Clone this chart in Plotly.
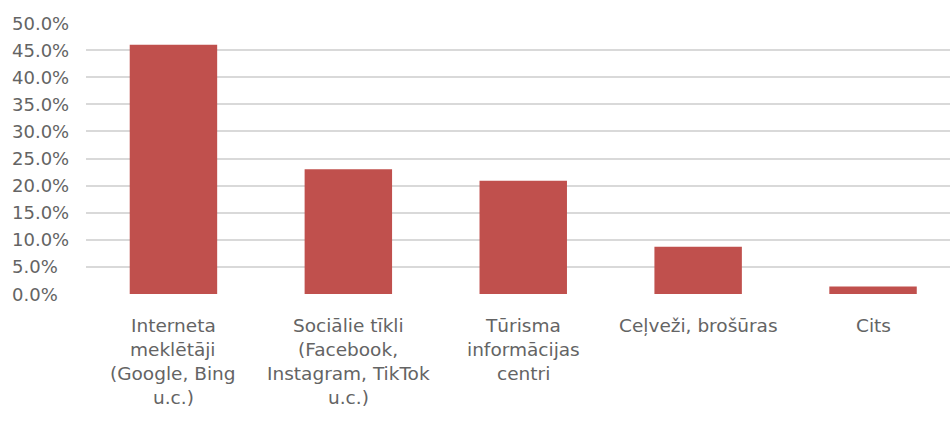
import plotly.graph_objects as go

# Information sources used when planning a trip (share of respondents, %)
categories = [
    "Interneta<br>meklētāji<br>(Google, Bing<br>u.c.)",
    "Sociālie tīkli<br>(Facebook,<br>Instagram, TikTok<br>u.c.)",
    "Tūrisma<br>informācijas<br>centri",
    "Ceļveži, brošūras",
    "Cits",
]
shares = [46.0, 23.0, 20.9, 8.7, 1.4]
y_ticks = [0, 5, 10, 15, 20, 25, 30, 35, 40, 45, 50]
y_tick_labels = [f"{v:.1f}%" for v in y_ticks]

BAR_COLOR = "#C0504D"
TEXT_COLOR = "#646464"
FONT = "DejaVu Sans"
Y_FONT_SIZE = 18
X_FONT_SIZE = 18.5
LINE_STEP = 24  # px between stacked category label lines

fig = go.Figure(
    go.Bar(
        x=list(range(len(categories))),
        y=shares,
        marker=dict(color=BAR_COLOR, line=dict(width=0)),
        hoverinfo="skip",
    )
)

annotations = []
# y tick labels, left-aligned in the left margin
for v, lab in zip(y_ticks, y_tick_labels):
    annotations.append(dict(
        xref="paper", yref="y", x=0, y=v, xanchor="left", yanchor="middle",
        xshift=-76, text=lab, showarrow=False,
        font=dict(family=FONT, size=Y_FONT_SIZE, color=TEXT_COLOR),
    ))
# category labels, one annotation per line for wider line spacing
for i, lab in enumerate(categories):
    for j, line in enumerate(lab.split("<br>")):
        annotations.append(dict(
            xref="x", yref="paper", x=i, y=0, xanchor="center", yanchor="middle",
            yshift=-(31 + LINE_STEP * j), text=line, showarrow=False,
            font=dict(family=FONT, size=X_FONT_SIZE, color=TEXT_COLOR),
        ))

fig.update_layout(
    width=950, height=421,
    margin=dict(l=86, r=0, t=23, b=127),
    paper_bgcolor="white", plot_bgcolor="white",
    bargap=0.5,
    showlegend=False,
    annotations=annotations,
    xaxis=dict(range=[-0.5, 4.44], showticklabels=False, showgrid=False,
               zeroline=False, showline=False, ticks=""),
    yaxis=dict(range=[0, 50], tickvals=y_ticks, showticklabels=False,
               showgrid=True, gridcolor="#d9d9d9", gridwidth=1.5,
               zeroline=False, showline=False, ticks=""),
)

fig.write_html("out.html")
